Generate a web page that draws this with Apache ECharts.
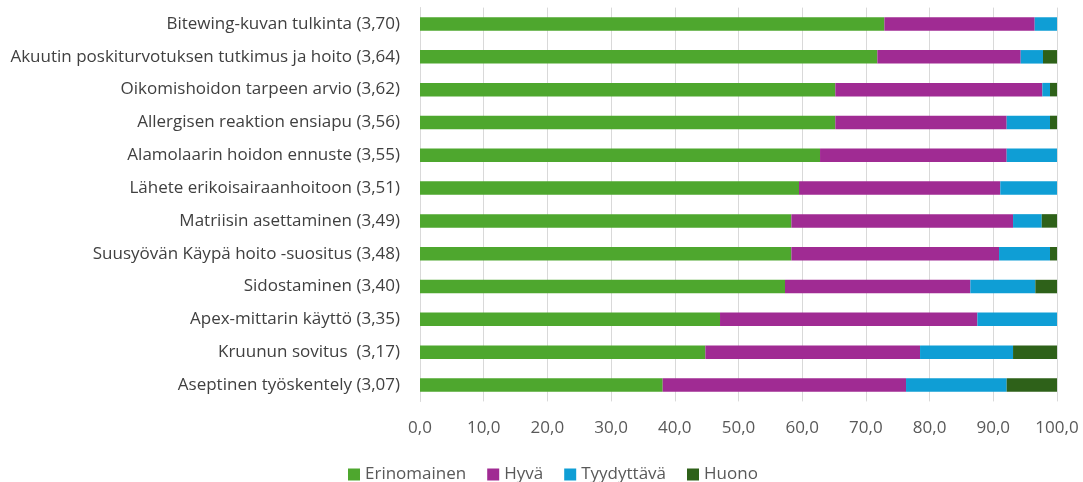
<!DOCTYPE html>
<html>
<head>
<meta charset="utf-8">
<script src="https://cdn.jsdelivr.net/npm/echarts@6/dist/echarts.min.js"></script>
<style>
html,body{margin:0;padding:0;background:#fff;}
#chart{width:1083px;height:482px;}
</style>
</head>
<body>
<div id="chart"></div>
<script>
const categories = [
  "Bitewing-kuvan tulkinta (3,70)",
  "Akuutin poskiturvotuksen tutkimus ja hoito (3,64)",
  "Oikomishoidon tarpeen arvio (3,62)",
  "Allergisen reaktion ensiapu (3,56)",
  "Alamolaarin hoidon ennuste (3,55)",
  "Lähete erikoisairaanhoitoon (3,51)",
  "Matriisin asettaminen (3,49)",
  "Suusyövän Käypä hoito -suositus (3,48)",
  "Sidostaminen (3,40)",
  "Apex-mittarin käyttö (3,35)",
  "Kruunun sovitus  (3,17)",
  "Aseptinen työskentely (3,07)"
];
const erinomainen = [72.9, 71.8, 65.2, 65.2, 62.8, 59.5, 58.3, 58.3, 57.3, 47.1, 44.8, 38.1];
const hyva        = [23.6, 22.5, 32.5, 26.9, 29.3, 31.6, 34.8, 32.6, 29.1, 40.4, 33.7, 38.2];
const tyydyttava  = [3.5, 3.5, 1.2, 6.8, 7.9, 8.9, 4.5, 8.0, 10.2, 12.5, 14.6, 15.8];
const huono       = [0, 2.2, 1.1, 1.1, 0, 0, 2.4, 1.1, 3.4, 0, 6.9, 7.9];
const seriesNames = ["Erinomainen", "Hyvä", "Tyydyttävä", "Huono"];
const colors = ["#4EA72E", "#A02B93", "#0F9ED5", "#2E6119"];

const FONT = "Open Sans";
const chart = echarts.init(document.getElementById('chart'), null, {renderer: 'canvas'});
const dataSets = [erinomainen, hyva, tyydyttava, huono];
chart.setOption({
  animation: false,
  textStyle: {fontFamily: FONT},
  grid: {left: 420, right: 26, top: 7.6, bottom: 80.6, containLabel: false},
  legend: {
    left: 343, top: 461,
    itemWidth: 12, itemHeight: 12, itemGap: 21,
    icon: 'rect',
    textStyle: {fontFamily: FONT, fontSize: 17, color: '#595959'},
    data: seriesNames
  },
  xAxis: {
    type: 'value', min: 0, max: 100, interval: 10,
    axisLine: {show: false}, axisTick: {show: false},
    splitLine: {show: true, lineStyle: {color: '#D9D9D9', width: 1}},
    axisLabel: {
      fontFamily: FONT, fontSize: 17, color: '#595959', margin: 18,
      formatter: v => v.toFixed(1).replace('.', ',')
    }
  },
  yAxis: {
    type: 'category', data: categories, inverse: true,
    axisLine: {show: true, lineStyle: {color: '#D9D9D9'}},
    axisTick: {show: false},
    axisLabel: {fontFamily: FONT, fontSize: 17, color: '#404040', margin: 20}
  },
  series: seriesNames.map((n, i) => ({
    name: n, type: 'bar', stack: 'total', barWidth: 13.5,
    itemStyle: {color: colors[i]},
    data: dataSets[i]
  }))
});
</script>
</body>
</html>
